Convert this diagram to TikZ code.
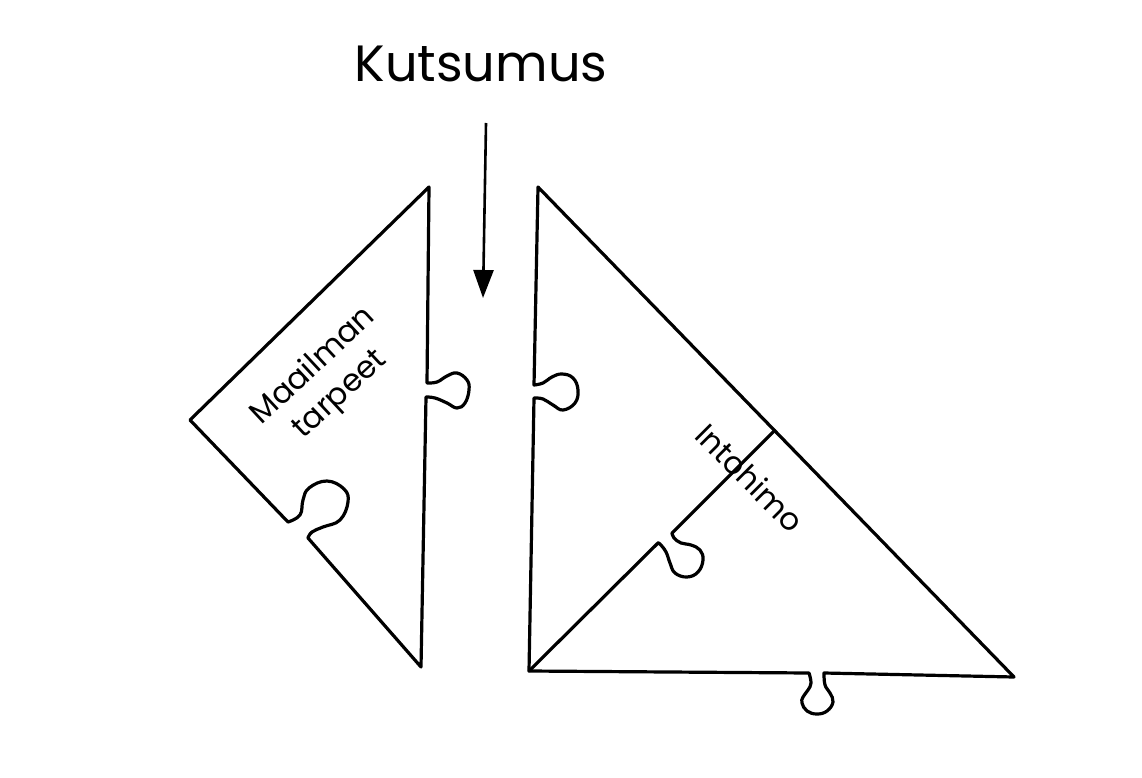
\documentclass[tikz,border=0pt]{standalone}
\usepackage{fontspec}
\setmainfont{Poppins}
\usetikzlibrary{arrows.meta,calc}
\begin{document}
\begin{tikzpicture}[x=1pt,y=-1pt,
  piece/.style={line width=3.2pt, line join=round, line cap=round},
  lbl/.style={font=\fontsize{31}{39}\selectfont, align=center, inner sep=0pt},
  title/.style={font=\fontsize{51}{60}\selectfont, anchor=base, inner sep=0pt},
  pointer/.style={line width=2.6pt, -{Triangle[length=28pt,width=20pt]}}]
\fill[white] (0,0) rectangle (1142,778);
\useasboundingbox (0,0) rectangle (1142,778);
% left piece corners
\coordinate (LA) at (429,187);
\coordinate (LB) at (190,420);
\coordinate (LC) at (421,667);
% right piece corners
\coordinate (RT) at (538,187);
\coordinate (RL) at (529,671);
\coordinate (RR) at (1014,677);
\coordinate (RJ) at ($(RT)!0.497!(RR)$);
% left piece
\draw[piece] (LA) -- (LB)
  -- plot[smooth,tension=0.7] coordinates {(288,522) (300,515) (303,500) (309,488) (327,481) (344,489) (348,502) (340,520) (323,527) (312,532) (308,538)}
  -- (LC)
  -- plot[smooth,tension=0.7] coordinates {(426,397) (435,398) (447,403) (457,408) (465,403) (469,390) (467,380) (457,373) (447,376) (437,382) (427,383)}
  -- cycle;
% right piece outline
\draw[piece] (RT)
  -- plot[smooth,tension=0.7] coordinates {(534,385) (543,383) (552,377) (562,374) (573,378) (578,390) (575,403) (563,410) (553,405) (543,399) (534,398)}
  -- (RL)
  -- plot[smooth,tension=0.7] coordinates {(809,673) (811,683) (808,690) (803,697) (802,703) (807,711) (817,714) (827,711) (833,702) (830,693) (825,685) (824,673)}
  -- (RR) -- cycle;
% interior seam
\draw[piece] (RJ)
  -- plot[smooth,tension=0.7] coordinates {(672,533) (674,538) (681,543) (691,545) (700,550) (703,560) (698,572) (687,577) (675,573) (670,563) (666,552) (660,544) (658,543)}
  -- (RL);
% texts
\node[lbl, rotate=43] (maailman) at (327,381) {Maailman\\tarpeet};
\node[lbl, rotate=-45] (intohimo) at (750,478) {Intohimo};
\node[title] (kutsumus) at (481,82) {Kutsumus};
% arrow
\coordinate (arrS) at (486,123);
\coordinate (arrE) at (483,298);
\draw[pointer] (arrS) -- (arrE);
\end{tikzpicture}
\end{document}
